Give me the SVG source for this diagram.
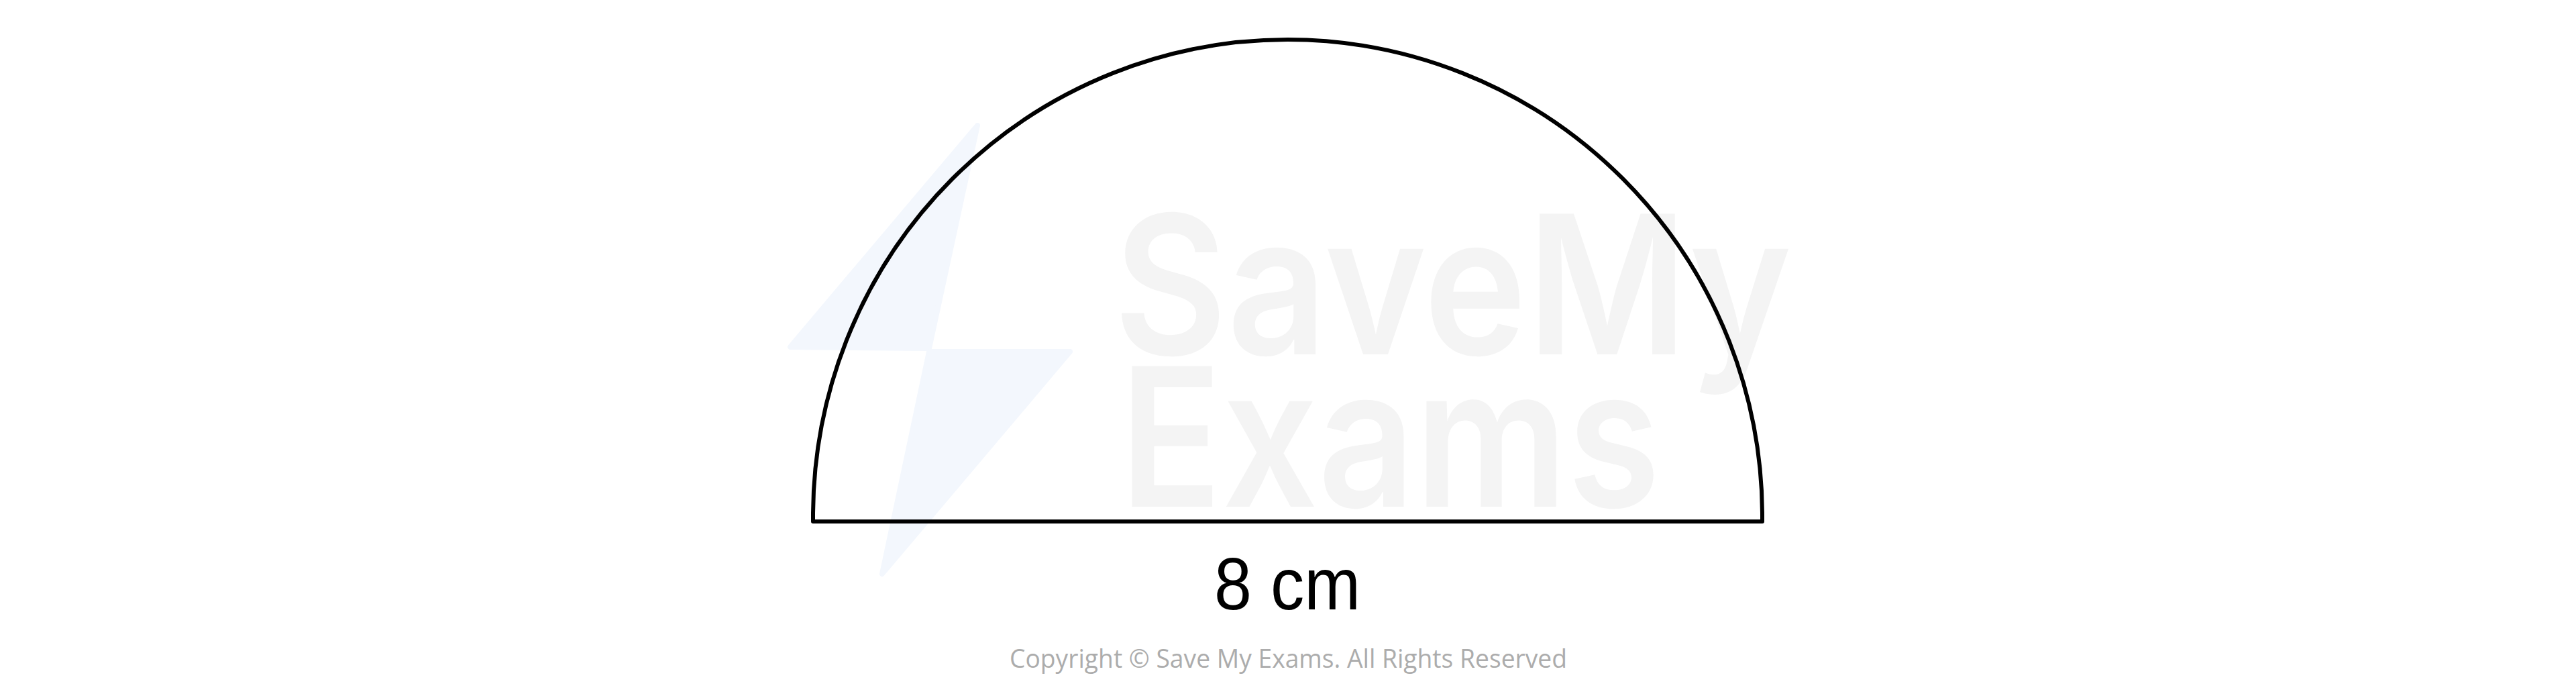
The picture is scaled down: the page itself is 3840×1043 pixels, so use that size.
<svg xmlns="http://www.w3.org/2000/svg" width="3840" height="1043" viewBox="0 0 3840 1043">
<style>
.wm{fill:#f4f4f4;font-family:Inter,"Noto Sans",sans-serif;font-weight:600;font-size:288px}
.bolt{fill:#f3f7fd;stroke:#f3f7fd;stroke-width:8;stroke-linejoin:round}
.shape{fill:none;stroke:#000;stroke-width:6;stroke-linejoin:round;stroke-linecap:round}
.lbl{fill:#000;font-family:"Liberation Sans",Arial,sans-serif;font-size:110px}
.copy{fill:#acacac;font-family:"Open Sans","Liberation Sans",sans-serif;font-size:39px}
</style>
<rect width="3840" height="1043" fill="#fff"/>
<g id="watermark">
<polygon class="bolt" points="1457,187 1178,517 1385,519"/>
<polygon class="bolt" points="1385,524 1595,524 1315,855"/>
<text class="wm" x="1660" y="528" textLength="1011" lengthAdjust="spacingAndGlyphs">SaveMy</text>
<text class="wm" x="1669" y="755" textLength="806" lengthAdjust="spacingAndGlyphs">Exams</text>
</g>
<g id="semicircle">
<path class="shape" d="M1212,777 L1212,769 A707.5,710 0 0 1 2627,769 L2627,777 Z"/>
</g>
<g id="label">
<text class="lbl" x="1810" y="908" textLength="218" lengthAdjust="spacingAndGlyphs">8 cm</text>
</g>
<g id="copyright">
<text class="copy" x="1505" y="995" textLength="831" lengthAdjust="spacingAndGlyphs">Copyright © Save My Exams. All Rights Reserved</text>
</g>
</svg>
